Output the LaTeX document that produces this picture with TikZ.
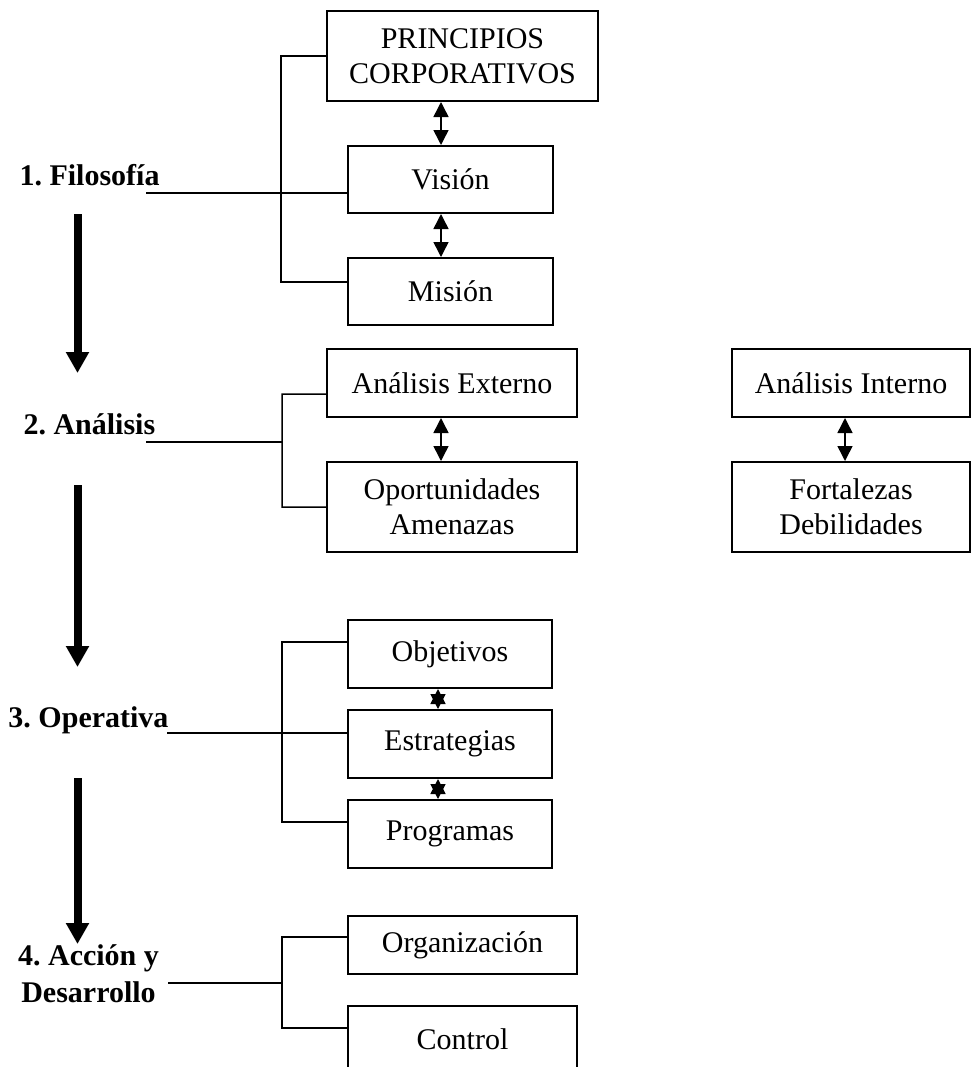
\documentclass[tikz,border=0pt]{standalone}
\usepackage{fontspec}
\setmainfont{Liberation Serif}
\usetikzlibrary{arrows.meta,positioning}
\tikzset{%
	caja/.style   = {draw, rectangle, line width=0.8pt, align=center, inner sep=0pt, font=\fontsize{12}{14}\selectfont, minimum width=82pt, minimum height=26.8pt}, % box
	etapa/.style  = {inner sep=0pt, align=center, font=\fontsize{12}{14.8}\selectfont\bfseries}, % stage
	linea/.style  = {line width=0.6pt},
	doble/.style  = {line width=0.6pt, {Triangle[length=6pt,width=6pt]}-{Triangle[length=6pt,width=6pt]}},
	bajada/.style = {line width=3.2pt, -{Triangle[length=8.4pt,width=8.8pt]}},
	waypoint/.style = {coordinate},
}

\begin{document}
\begin{tikzpicture}[x=0.4pt,y=-0.4pt]
	\path[use as bounding box,clip] (0,0) rectangle (971,1067);

	% 1. Filosofia
	\node [etapa,anchor=base west] (filosofia) at (19,185) {1.\ Filosofía};
	\node [caja,minimum width=108.4pt,minimum height=36pt] (principios) at (462.5,56) {PRINCIPIOS\\CORPORATIVOS};
	\node [caja] (vision) at (450.5,179.5) {Visión};
	\node [caja] (mision) [below of=vision,node distance=44.8pt] {Misión};
	\node [waypoint] (f1) at (146,193) {};

	\draw[linea] (principios.west) -| (281,282) -- (mision.west |- 0,282);
	\draw[linea] (f1) -- (vision.west |- f1);
	\draw[doble] (principios.south -| 441,0) -- (vision.north -| 441,0);
	\draw[doble] (vision.south -| 441,0) -- (mision.north -| 441,0);

	% 2. Analisis
	\node [etapa,anchor=base west] (analisis) at (23,434) {2.\ Análisis};
	\node [caja,minimum width=100pt,minimum height=27.2pt] (externo) at (452,383) {Análisis Externo};
	\node [caja,minimum width=100pt,minimum height=36pt] (oportunidades) [below of=externo,node distance=49.6pt] {Oportunidades\\Amenazas};
	\node [caja,minimum width=95.2pt,minimum height=27.2pt] (interno) [right of=externo,node distance=159.6pt] {Análisis Interno};
	\node [caja,minimum width=95.2pt,minimum height=36pt] (fortalezas) [below of=interno,node distance=49.6pt] {Fortalezas\\Debilidades};
	\node [waypoint] (a1) at (146,442) {};
	\node [waypoint] (a2) at (282,442) {};

	\draw[linea] (externo.west |- 0,394) -| (282,507) -- (oportunidades.west);
	\draw[linea] (a1) -- (a2);
	\draw[doble] (externo.south -| 441,0) -- (oportunidades.north -| 441,0);
	\draw[doble] (interno.south -| 845,0) -- (fortalezas.north -| 845,0);

	% 3. Operativa
	\node [etapa,anchor=base west] (operativa) at (8,727) {3.\ Operativa};
	\node [caja,minimum width=81.6pt,minimum height=27.2pt] (objetivos) at (450,654) {Objetivos};
	\node [caja,minimum width=81.6pt,minimum height=27.2pt] (estrategias) [below of=objetivos,node distance=36pt] {Estrategias};
	\node [caja,minimum width=81.6pt,minimum height=27.2pt] (programas) [below of=estrategias,node distance=36pt] {Programas};
	\node [waypoint] (o1) at (167,733) {};

	\draw[linea] (objetivos.west |- 0,642) -| (282,822) -- (programas.west |- 0,822);
	\draw[linea] (o1) -- (estrategias.west |- o1);
	\draw[doble] (objetivos.south -| 438,0) -- (estrategias.north -| 438,0);
	\draw[doble] (estrategias.south -| 438,0) -- (programas.north -| 438,0);

	% 4. Accion y Desarrollo
	\node [etapa,anchor=base] (accion) at (88.5,1002) {4.\ Acción y\\Desarrollo};
	\node [caja,minimum width=91.6pt,minimum height=23.2pt] (organizacion) at (462.5,945) {Organización};
	\node [caja,minimum width=91.6pt,minimum height=26.4pt] (control) [below of=organizacion,node distance=37.6pt] {Control};
	\node [waypoint] (d1) at (168,983) {};
	\node [waypoint] (d2) at (282,983) {};

	\draw[linea] (organizacion.west |- 0,937) -| (282,1028) -- (control.west |- 0,1028);
	\draw[linea] (d1) -- (d2);

	% flechas entre etapas
	\node [waypoint] (b1) at (77.5,214) {};
	\node [waypoint] (b2) at (77.5,373) {};
	\node [waypoint] (b3) at (77.5,485) {};
	\node [waypoint] (b4) at (77.5,667) {};
	\node [waypoint] (b5) at (77.5,778) {};
	\node [waypoint] (b6) at (77.5,944) {};
	\draw[bajada] (b1) -- (b2);
	\draw[bajada] (b3) -- (b4);
	\draw[bajada] (b5) -- (b6);
\end{tikzpicture}
\end{document}
